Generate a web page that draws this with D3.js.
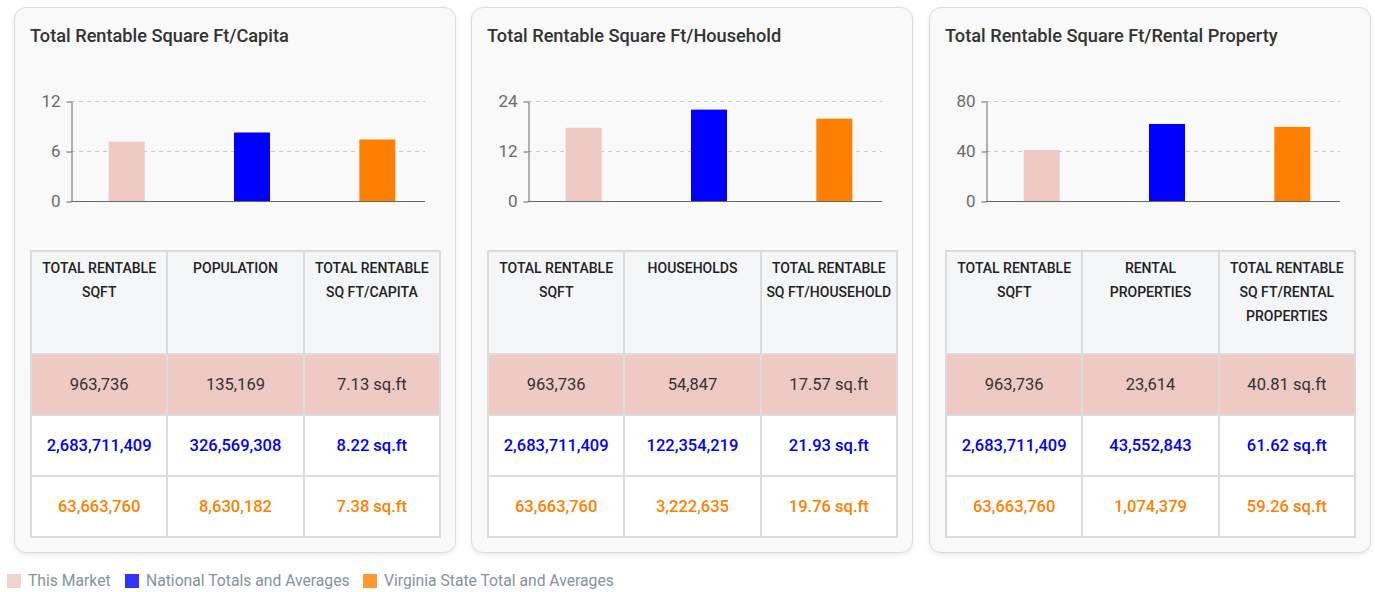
<!DOCTYPE html>
<html>
<head>
<meta charset="utf-8">
<script src="https://cdn.jsdelivr.net/npm/d3@7"></script>
<style>
  body { margin: 0; background: #fff; font-family: Roboto, "Noto Sans", sans-serif; }
  #wrap { position: relative; width: 1375px; height: 592px; }
  .card {
    position: absolute; top: 7px; height: 544px;
    background: #f9f9f9; border: 1px solid #dcdcdc; border-radius: 12px;
    box-shadow: 0 2px 4px rgba(0,0,0,0.08);
  }
  .card .title { position: absolute; left: 15px; top: 17px; font-size: 18.2px; font-weight: 500; color: #333; }
  .card svg { position: absolute; left: 0; top: 0; }
  table { position: absolute; left: 15px; top: 242px; width: 411px; border-collapse: collapse; table-layout: fixed; }
  td, th { border: 2px solid #dcdcdc; text-align: center; }
  th { background: #f5f6f8; height: 97px; vertical-align: top; padding: 4px 2px 0; font-size: 14px; font-weight: 500; line-height: 24px; color: #222; }
  td { height: 59px; font-size: 16.5px; padding: 0; }
  .legend { position: absolute; top: 571px; font-size: 15.7px; color: #8792a0; display: flex; align-items: center; }
  .legend span.sw { width: 14px; height: 14px; display: inline-block; margin-right: 7px; }
</style>
</head>
<body>
<div id="wrap"></div>
<script>
// series
const seriesNames = ["This Market", "National Totals and Averages", "Virginia State Total and Averages"];
const barColors = ["#efc9c4", "#0000ff", "#ff8000"];
const legendColors = ["#f2d3cf", "#3333ff", "#ff9933"];

// cards
const titles = ["Total Rentable Square Ft/Capita", "Total Rentable Square Ft/Household", "Total Rentable Square Ft/Rental Property"];
const yTicks = [[0, 6, 12], [0, 12, 24], [0, 40, 80]];
const ratioValues = [[7.13, 8.22, 7.38], [17.57, 21.93, 19.76], [40.81, 61.62, 59.26]];

// table headers
const headers = [
  ["TOTAL RENTABLE SQFT", "POPULATION", "TOTAL RENTABLE SQ FT/CAPITA"],
  ["TOTAL RENTABLE SQFT", "HOUSEHOLDS", "TOTAL RENTABLE SQ FT/HOUSEHOLD"],
  ["TOTAL RENTABLE SQFT", "RENTAL PROPERTIES", "TOTAL RENTABLE SQ FT/RENTAL PROPERTIES"]
];
const totalSqft = [963736, 2683711409, 63663760];
const denominators = [
  [135169, 326569308, 8630182],
  [54847, 122354219, 3222635],
  [23614, 43552843, 1074379]
];

const cardLefts = [14, 471, 929];
const cardW = 442;
const fmt = d3.format(",");

const wrap = d3.select("#wrap");

titles.forEach((title, i) => {
  const card = wrap.append("div")
    .attr("class", "card")
    .style("left", cardLefts[i] + "px")
    .style("width", (cardW - 2) + "px");

  card.append("div").attr("class", "title").text(title);

  // chart
  const svg = card.append("svg").attr("width", cardW).attr("height", 230);
  const axisX = 56, plotRight = 410;

  const y = d3.scaleLinear()
    .domain([0, d3.max(yTicks[i])])
    .range([193, 93]);

  const x = d3.scaleBand()
    .domain(seriesNames)
    .range([49, 425]);

  // gridlines
  svg.selectAll(".grid")
    .data(yTicks[i].filter(d => d > 0))
    .enter()
    .append("line")
    .attr("x1", axisX).attr("x2", plotRight)
    .attr("y1", d => y(d) + 0.5).attr("y2", d => y(d) + 0.5)
    .attr("stroke", "#c8c8c8")
    .attr("stroke-dasharray", "4,4");

  // bars
  svg.selectAll(".bar")
    .data(ratioValues[i])
    .enter()
    .append("rect")
    .attr("x", (d, j) => x(seriesNames[j]) + x.bandwidth() / 2 - 18)
    .attr("y", d => y(d))
    .attr("width", 36)
    .attr("height", d => y(0) - y(d))
    .attr("fill", (d, j) => barColors[j]);

  // y axis
  const yAxis = svg.append("g")
    .attr("transform", `translate(${axisX + 0.5},0.5)`)
    .call(d3.axisLeft(y).tickValues(yTicks[i]).tickSize(5).tickSizeOuter(0));
  yAxis.select(".domain").attr("stroke", "#666");
  yAxis.selectAll(".tick line").attr("stroke", "#666");
  yAxis.selectAll("text")
    .attr("fill", "#6b6b6b")
    .attr("font-size", "17px")
    .attr("font-family", "Roboto, sans-serif")
    .attr("x", -11);

  // baseline
  svg.append("line")
    .attr("x1", axisX).attr("x2", plotRight)
    .attr("y1", y(0) + 0.5).attr("y2", y(0) + 0.5)
    .attr("stroke", "#666");

  // table
  const table = card.append("table");
  table.append("tr")
    .selectAll("th")
    .data(headers[i])
    .enter()
    .append("th")
    .text(d => d);

  seriesNames.forEach((s, j) => {
    const vals = [fmt(totalSqft[j]), fmt(denominators[i][j]), ratioValues[i][j].toFixed(2) + " sq.ft"];
    table.append("tr")
      .style("background", j === 0 ? barColors[0] : "#fff")
      .selectAll("td")
      .data(vals)
      .enter()
      .append("td")
      .style("color", j === 0 ? "#333" : barColors[j])
      .style("font-weight", j === 0 ? 400 : 500)
      .text(d => d);
  });
});

// legend
const legendLefts = [7, 125, 363];
seriesNames.forEach((s, j) => {
  const item = wrap.append("div")
    .attr("class", "legend")
    .style("left", legendLefts[j] + "px");
  item.append("span").attr("class", "sw").style("background", legendColors[j]);
  item.append("span").text(s);
});
</script>
</body>
</html>
